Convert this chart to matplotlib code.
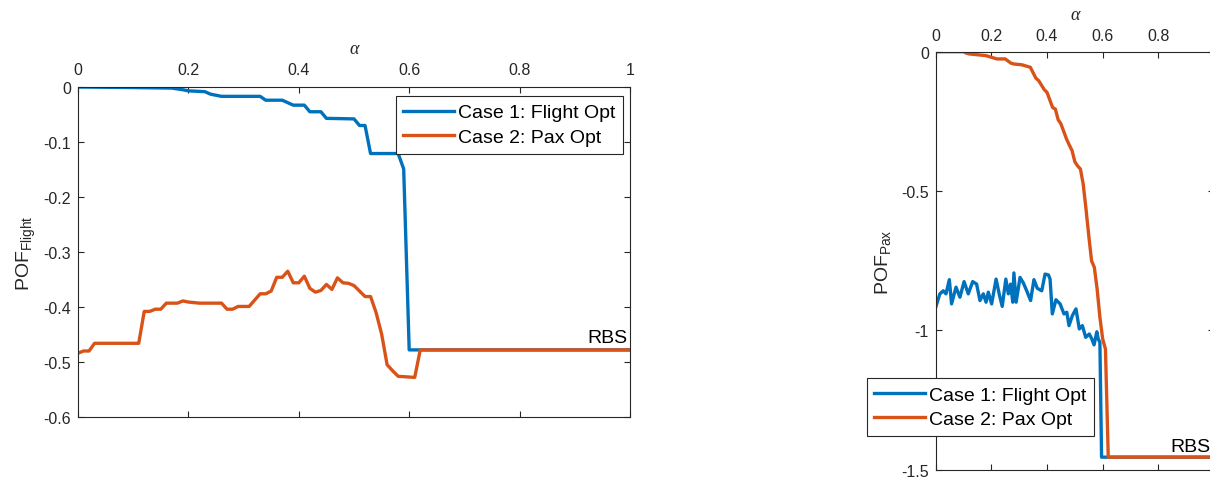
import numpy as np
import matplotlib
matplotlib.use("Agg")
import matplotlib.pyplot as plt

plt.rcParams["font.family"] = ["Liberation Sans", "DejaVu Sans"]
plt.rcParams["axes.unicode_minus"] = False
plt.rcParams["mathtext.fontset"] = "custom"
plt.rcParams["mathtext.rm"] = "Liberation Sans"
plt.rcParams["mathtext.it"] = "Liberation Sans:italic"

BLUE = "#0072BD"
ORANGE = "#D95319"
AX_COL = "#262626"

# POF_Flight vs alpha
flight_c1_alpha = [0, 0.10, 0.17, 0.19, 0.20, 0.23, 0.24, 0.26, 0.33, 0.34, 0.37, 0.39,
                   0.41, 0.42, 0.44, 0.45, 0.50, 0.51, 0.52, 0.53, 0.58, 0.59, 0.60, 1.0]
flight_c1 = [0, -0.001, -0.002, -0.005, -0.007, -0.0085, -0.013, -0.017, -0.017, -0.024,
             -0.024, -0.033, -0.033, -0.045, -0.045, -0.057, -0.058, -0.070, -0.070,
             -0.121, -0.121, -0.149, -0.478, -0.478]

flight_c2_alpha = [0, 0.01, 0.02, 0.03, 0.11, 0.12, 0.13, 0.14, 0.15, 0.16, 0.18, 0.19,
                   0.20, 0.22, 0.26, 0.27, 0.28, 0.29, 0.31, 0.33, 0.34, 0.35, 0.36, 0.37,
                   0.38, 0.39, 0.40, 0.41, 0.42, 0.43, 0.44, 0.45, 0.46, 0.47, 0.48, 0.49,
                   0.50, 0.51, 0.52, 0.53, 0.54, 0.55, 0.56, 0.57, 0.58, 0.61, 0.62, 1.0]
flight_c2 = [-0.484, -0.480, -0.480, -0.466, -0.466, -0.408, -0.408, -0.404, -0.404,
             -0.393, -0.393, -0.389, -0.391, -0.393, -0.393, -0.404, -0.404, -0.399,
             -0.399, -0.376, -0.376, -0.371, -0.346, -0.346, -0.335, -0.356, -0.356,
             -0.344, -0.366, -0.373, -0.370, -0.359, -0.368, -0.347, -0.356, -0.357,
             -0.361, -0.371, -0.381, -0.381, -0.410, -0.449, -0.505, -0.516, -0.526,
             -0.528, -0.478, -0.478]

# POF_Pax vs alpha
pax_c1_alpha = [0.001, 0.015, 0.027, 0.037, 0.049, 0.057, 0.073, 0.087, 0.102, 0.117,
                0.133, 0.147, 0.159, 0.171, 0.181, 0.189, 0.201, 0.217, 0.229, 0.239,
                0.252, 0.261, 0.269, 0.277, 0.281, 0.289, 0.303, 0.315, 0.327, 0.341,
                0.353, 0.365, 0.381, 0.393, 0.405, 0.411, 0.419, 0.432, 0.447, 0.461,
                0.471, 0.479, 0.491, 0.504, 0.516, 0.527, 0.539, 0.552, 0.561, 0.569,
                0.579, 0.584, 0.590, 0.596, 1.0]
pax_c1 = [-0.914, -0.869, -0.858, -0.869, -0.818, -0.905, -0.845, -0.881, -0.825, -0.869,
          -0.825, -0.834, -0.893, -0.869, -0.899, -0.863, -0.905, -0.816, -0.873, -0.914,
          -0.816, -0.869, -0.834, -0.899, -0.794, -0.899, -0.810, -0.830, -0.858, -0.893,
          -0.818, -0.849, -0.858, -0.798, -0.801, -0.816, -0.941, -0.890, -0.905, -0.941,
          -0.935, -0.983, -0.947, -0.923, -0.995, -0.983, -1.025, -1.013, -1.031, -1.052,
          -1.005, -1.031, -1.043, -1.455, -1.455]

pax_c2_alpha = [0, 0.10, 0.11, 0.12, 0.18, 0.22, 0.25, 0.27, 0.28, 0.31, 0.34, 0.36, 0.37,
                0.39, 0.40, 0.42, 0.43, 0.44, 0.45, 0.47, 0.48, 0.49, 0.50, 0.51, 0.52,
                0.53, 0.54, 0.55, 0.56, 0.57, 0.58, 0.59, 0.60, 0.61, 0.62, 1.0]
pax_c2 = [0, 0, -0.005, -0.008, -0.014, -0.026, -0.026, -0.041, -0.044, -0.047, -0.056,
          -0.095, -0.104, -0.136, -0.146, -0.200, -0.206, -0.244, -0.259, -0.313, -0.335,
          -0.355, -0.395, -0.410, -0.421, -0.475, -0.564, -0.660, -0.750, -0.774, -0.851,
          -0.953, -1.031, -1.067, -1.455, -1.455]

labels = ["Case 1: Flight Opt", "Case 2: Pax Opt"]
alpha_ticks = [0, 0.2, 0.4, 0.6, 0.8, 1]
flight_ticks = [-0.6, -0.5, -0.4, -0.3, -0.2, -0.1, 0]
pax_ticks = [-1.5, -1, -0.5, 0]


def style_axes(ax, yticks, xpad, ypad):
    ax.set_xlim(0, 1)
    ax.set_xticks(alpha_ticks)
    ax.set_xticklabels(["%g" % t for t in alpha_ticks])
    ax.set_yticks(yticks)
    ax.set_yticklabels(["%g" % t for t in yticks])
    ax.xaxis.tick_top()
    ax.tick_params(direction="in", length=4, width=0.8, colors=AX_COL, labelsize=11.5,
                   top=True, bottom=True, left=True, right=True)
    ax.tick_params(axis="x", pad=xpad)
    ax.tick_params(axis="y", pad=ypad)
    for s in ax.spines.values():
        s.set_color(AX_COL)
        s.set_linewidth(0.8)
    ax.xaxis.set_label_position("top")
    ax.set_xlabel("α", family=["Liberation Serif", "DejaVu Serif"], style="italic",
                  fontsize=13, color=AX_COL, labelpad=7)


def add_legend(ax, loc, anchor):
    leg = ax.legend(loc=loc, bbox_to_anchor=anchor, bbox_transform=fig.transFigure,
                    borderaxespad=0, fontsize=14, fancybox=False, framealpha=1,
                    edgecolor=AX_COL, handlelength=2.6, handletextpad=0.2,
                    labelspacing=0.35, borderpad=0.4)
    leg.get_frame().set_linewidth(0.8)
    return leg


fig = plt.figure(figsize=(12.1, 4.81), dpi=100)

ax1 = fig.add_axes([78 / 1210, 1 - 418 / 481, 552 / 1210, 330 / 481])
ax1.plot(flight_c1_alpha, flight_c1, color=BLUE, lw=2.4, label=labels[0])
ax1.plot(flight_c2_alpha, flight_c2, color=ORANGE, lw=2.4, label=labels[1])
ax1.set_ylim(-0.6, 0)
style_axes(ax1, flight_ticks, 7, 5)
ax1.set_ylabel(r"POF$_{\mathrm{Flight}}$", fontsize=14, color=AX_COL, labelpad=4)
ax1.text(0.996, -0.4635, "RBS", ha="right", va="baseline", fontsize=14, color="black")
add_legend(ax1, "upper right", (623 / 1210, 1 - 97 / 481))

ax2 = fig.add_axes([935.7 / 1210, 1 - 470.7 / 481, 278.3 / 1210, 418 / 481])
ax2.plot(pax_c1_alpha, pax_c1, color=BLUE, lw=2.4, label=labels[0])
ax2.plot(pax_c2_alpha, pax_c2, color=ORANGE, lw=2.4, label=labels[1])
ax2.set_ylim(-1.5, 0)
style_axes(ax2, pax_ticks, 6, 5)
ax2.set_ylabel(r"POF$_{\mathrm{Pax}}$", fontsize=14, color=AX_COL, labelpad=6)
ax2.text(0.989, -1.432, "RBS", ha="right", va="baseline", fontsize=14, color="black")
add_legend(ax2, "lower left", (866.7 / 1210, 1 - 436.7 / 481))

fig.savefig("out.png", dpi=100)
